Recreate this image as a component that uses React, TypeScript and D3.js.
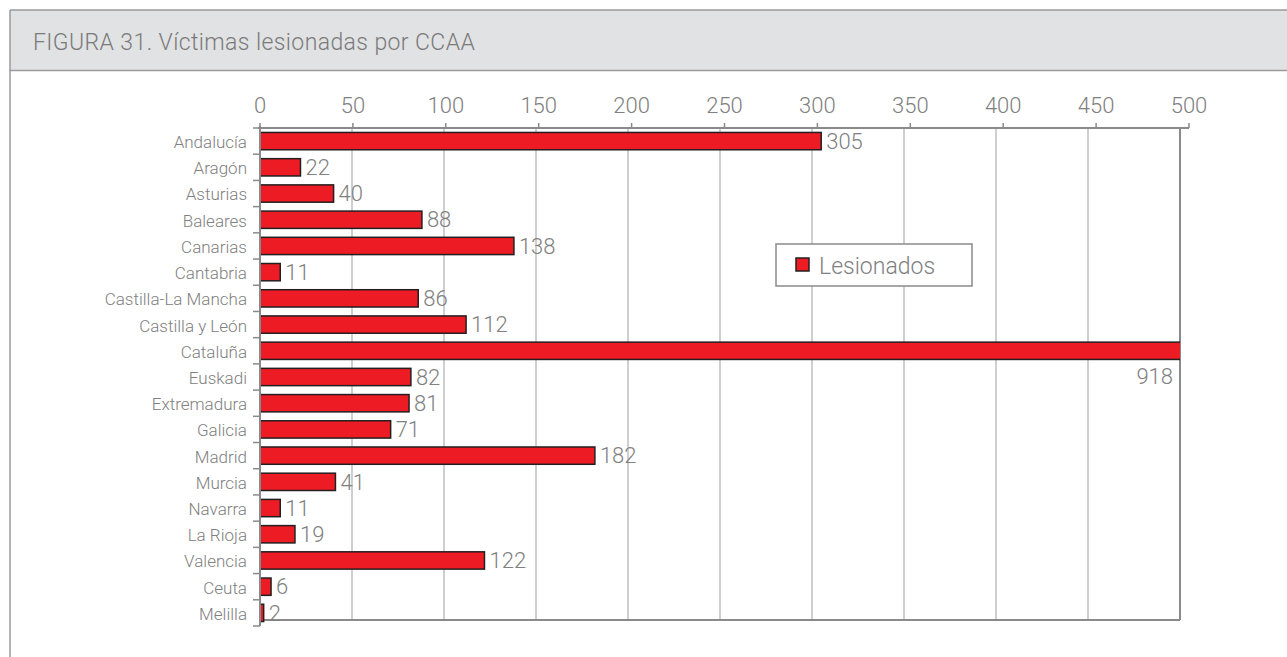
import React from "react";
import * as d3 from "d3";

const categories = [
  "Andalucía", "Aragón", "Asturias", "Baleares", "Canarias", "Cantabria",
  "Castilla-La Mancha", "Castilla y León", "Cataluña", "Euskadi", "Extremadura",
  "Galicia", "Madrid", "Murcia", "Navarra", "La Rioja", "Valencia", "Ceuta", "Melilla",
];
const values = [305, 22, 40, 88, 138, 11, 86, 112, 918, 82, 81, 71, 182, 41, 11, 19, 122, 6, 2];
const xTicks = [0, 50, 100, 150, 200, 250, 300, 350, 400, 450, 500];
const title = "FIGURA 31. Víctimas lesionadas por CCAA";
const seriesName = "Lesionados";

const W = 1287;
const H = 657;
const FONT = "Roboto, 'Open Sans', sans-serif";

export default function App() {
  const left = 260;
  const plotRight = 1180;
  const top = 128;
  const plotBottom = 620;
  const axisBottom = 626;

  const x = d3.scaleLinear().domain([0, 500]).range([left, plotRight]);
  const xTick = d3.scaleLinear().domain([0, 500]).range([left, 1189]);
  const y = d3.scaleBand<string>().domain(categories).range([top, axisBottom]).paddingInner(0.34).paddingOuter(0.17);
  const yEdges = d3.range(categories.length + 1).map((i) => top + (i * (axisBottom - top)) / categories.length);

  const gridColor = "#bfbfc4";
  const axisColor = "#8a8a8a";
  const labelColor = "#808080";

  return (
    <svg width={W} height={H} style={{ position: "absolute", left: 0, top: 0 }} fontFamily={FONT}>
      <defs>
        <clipPath id="plotclip">
          <rect x={left} y={top} width={plotRight - left} height={axisBottom - top} />
        </clipPath>
      </defs>
      <rect x={0} y={0} width={W} height={H} fill="#ffffff" />
      {/* frame + header */}
      <rect x={10} y={10} width={W + 20} height={60} fill="#e1e2e4" />
      <line x1={10} y1={70.5} x2={W} y2={70.5} stroke="#9a9a9a" strokeWidth={1.5} />
      <line x1={10} y1={10} x2={W} y2={10} stroke="#9a9a9a" strokeWidth={1.5} />
      <line x1={10} y1={10} x2={10} y2={H} stroke="#9a9a9a" strokeWidth={1.5} />
      <text x={33} y={50} fontSize={23} fontWeight={300} letterSpacing={0.4} fill="#7a7a7a">{title}</text>

      {/* gridlines */}
      {xTicks.slice(1).map((t) => (
        <line key={"g" + t} x1={x(t)} x2={x(t)} y1={top} y2={plotBottom}
          stroke={t === 500 ? axisColor : gridColor} strokeWidth={t === 500 ? 2 : 1.5} />
      ))}
      <line x1={left} x2={plotRight} y1={plotBottom} y2={plotBottom} stroke={axisColor} strokeWidth={2} />

      {/* bars */}
      <g clipPath="url(#plotclip)">
        {categories.map((c, i) => (
          <rect key={c} x={x(0)} y={y(c)!} width={x(values[i]) - x(0)} height={y.bandwidth()}
            fill="#ed1c24" stroke="#231f20" strokeWidth={1.5} />
        ))}
      </g>

      {/* value labels */}
      {categories.map((c, i) => {
        const over = values[i] > 500;
        const cy = y(c)! + y.bandwidth() / 2;
        return (
          <text key={"v" + c}
            x={over ? plotRight - 7 : x(values[i]) + 5}
            y={over ? cy + 26 : cy}
            dy="0.35em"
            textAnchor={over ? "end" : "start"}
            fontSize={22} fontWeight={300} fill={labelColor}>
            {values[i]}
          </text>
        );
      })}

      {/* top axis */}
      <line x1={left - 2} x2={xTick(500)} y1={top} y2={top} stroke={axisColor} strokeWidth={2} />
      {xTicks.map((t) => (
        <g key={"t" + t}>
          <line x1={xTick(t)} x2={xTick(t)} y1={top} y2={top - 5} stroke={axisColor} strokeWidth={1.5} />
          <text x={xTick(t)} y={113} textAnchor="middle" fontSize={22} fontWeight={300} fill={labelColor}>{t}</text>
        </g>
      ))}

      {/* left axis */}
      <line x1={left} x2={left} y1={top - 2} y2={axisBottom} stroke={axisColor} strokeWidth={2} />
      {yEdges.map((e, i) => (
        <line key={"e" + i} x1={left - 7} x2={left} y1={e} y2={e} stroke={axisColor} strokeWidth={1.5} />
      ))}
      {categories.map((c) => (
        <text key={"c" + c} x={247} y={y(c)! + y.bandwidth() / 2 + 1} dy="0.35em" textAnchor="end"
          fontSize={17} fontWeight={300} fill={labelColor}>{c}</text>
      ))}

      {/* legend */}
      <rect x={776} y={244} width={196} height={42} fill="#ffffff" stroke={axisColor} strokeWidth={1.5} />
      <rect x={796} y={258} width={13} height={13} fill="#ed1c24" stroke="#231f20" strokeWidth={1.5} />
      <text x={819} y={266} dy="0.35em" fontSize={23} fontWeight={300} fill={labelColor}>{seriesName}</text>
    </svg>
  );
}
